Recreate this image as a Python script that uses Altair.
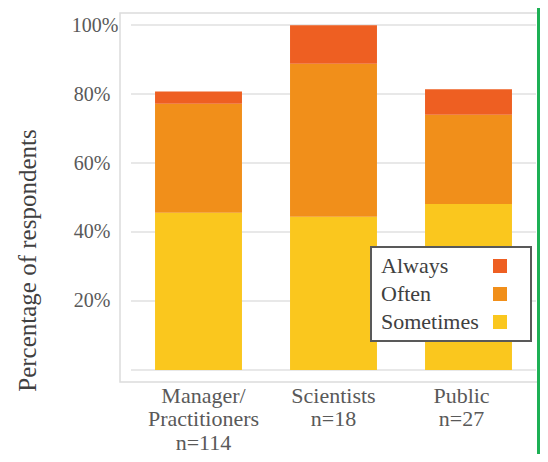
import altair as alt
import pandas as pd

groups = ["Manager/|Practitioners|n=114", "Scientists|n=18", "Public|n=27"]
levels = ["Always", "Often", "Sometimes"]
always = [3.5, 11.1, 7.4]
often = [31.6, 44.4, 25.9]
sometimes = [45.6, 44.4, 48.1]
colors = ["#EE5F22", "#F18F1A", "#FAC71E"]
y_ticks = [0, 20, 40, 60, 80, 100]

rows = []
for i, g in enumerate(groups):
    for lvl, vals, order in (("Sometimes", sometimes, 0), ("Often", often, 1), ("Always", always, 2)):
        rows.append({"group": g, "level": lvl, "value": vals[i], "order": order})
df = pd.DataFrame(rows)
grid_df = pd.DataFrame({"tick": y_ticks})

FONT = "Liberation Serif"
W, H = 420, 369
yscale = alt.Scale(domain=[-3.48, 103.48], nice=False, zero=False)

y_axis = alt.Axis(
    values=y_ticks, labelExpr="datum.value == 0 ? '' : datum.value + '%'",
    labelFont=FONT, labelFontSize=20, labelColor="#595959",
    labelPadding={"condition": {"test": "datum.value == 100", "value": 2}, "value": 10},
    ticks=False, domain=False, grid=False,
    title="Percentage of respondents", titleFont=FONT, titleFontSize=25,
    titleFontWeight="normal", titleColor="#404040",
    titleX=-93, titleY=247, titleAngle=270, titleAlign="center", titleBaseline="middle",
)

grid = alt.Chart(grid_df).mark_rule(color="#e0e0e0", strokeWidth=1.5).encode(
    y=alt.Y("tick:Q", scale=yscale, axis=y_axis),
    x=alt.value(11),
    x2=alt.value(416),
)

# legend symbol: a square drawn to the right of its label
legend_symbol = "M 19,0 M 14.714,-1 H 16.714 V 1 H 14.714 Z"

bars = alt.Chart(df).mark_bar(stroke=None).encode(
    x=alt.X(
        "group:N",
        sort=groups,
        scale=alt.Scale(range=[11, 416], paddingInner=0.356, paddingOuter=0.178),
        axis=alt.Axis(
            title=None, labelAngle=0, labelExpr="split(datum.label, '|')",
            labelFont=FONT, labelFontSize=22, labelLineHeight=23.5, labelColor="#595959",
            labelPadding=3, ticks=False, domain=False, labelLimit=0,
            labelOffset={
                "condition": [
                    {"test": "indexof(datum.value, 'Manager') >= 0", "value": 5},
                    {"test": "indexof(datum.value, 'Public') >= 0", "value": -7},
                ],
                "value": 0,
            },
        ),
    ),
    y=alt.Y("value:Q", stack="zero", scale=yscale, axis=y_axis),
    color=alt.Color(
        "level:N",
        scale=alt.Scale(domain=levels, range=colors),
        legend=alt.Legend(
            title=None, orient="none", legendX=251, legendY=234,
            symbolType=legend_symbol, symbolSize=196, symbolStrokeWidth=0,
            labelOffset=alt.ExprRef("-20"), labelFont=FONT, labelFontSize=22, labelColor="#404040",
            fillColor="white", padding=8, rowPadding=6,
        ),
    ),
    order=alt.Order("order:Q", sort="ascending"),
)

green = alt.Chart(pd.DataFrame({"edge": [0]})).mark_rule(color="#1DB055", strokeWidth=3).encode(
    x=alt.value(418.5), y=alt.value(-13), y2=alt.value(449)
)

chart = alt.layer(grid, bars, green).properties(
    width=W, height=H,
    autosize=alt.AutoSizeParams(type="none"),
    padding={"left": 112, "top": 5, "right": 0, "bottom": 72},
).configure_view(stroke="#dcdcdc", strokeWidth=1.5).configure_legend(
    strokeColor="#595959", strokeWidth=2
)

chart.save("out.html", embed_options={"renderer": "svg", "actions": False})
